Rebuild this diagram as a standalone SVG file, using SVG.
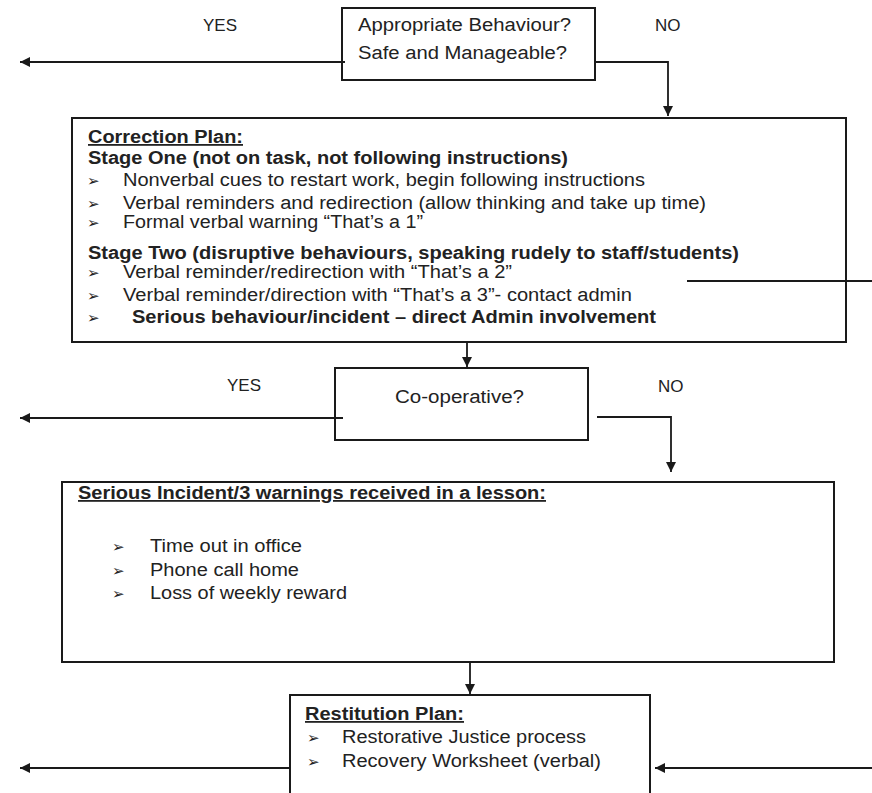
<svg xmlns="http://www.w3.org/2000/svg" width="872" height="793" viewBox="0 0 872 793">
<style>
text{font-family:"Liberation Sans",Arial,sans-serif;fill:#222;font-size:18px}
.b{font-weight:bold}
.u{text-decoration:underline}
.lbl{font-size:17px}
.bul{font-family:"DejaVu Sans",sans-serif;font-size:15px;font-weight:bold}
.box{fill:none;stroke:#1a1a1a;stroke-width:2}
.con{fill:none;stroke:#1a1a1a;stroke-width:1.8}
</style>
<defs>
<marker id="ah" markerUnits="userSpaceOnUse" markerWidth="12" markerHeight="12" refX="10" refY="5" orient="auto">
<path d="M0,0 L10,5 L0,10 Z" fill="#1a1a1a"/>
</marker>
</defs>
<rect width="872" height="793" fill="#fff"/>

<g id="labels">
<text class="lbl" x="203" y="31">YES</text>
<text class="lbl" x="655" y="31">NO</text>
<text class="lbl" x="227" y="391">YES</text>
<text class="lbl" x="658" y="392">NO</text>
</g>

<g id="decision1">
<rect class="box" x="342" y="8" width="253" height="72"/>
<text x="358" y="31" textLength="213" lengthAdjust="spacingAndGlyphs">Appropriate Behaviour?</text>
<text x="358" y="59" textLength="209" lengthAdjust="spacingAndGlyphs">Safe and Manageable?</text>
</g>

<g id="correction-plan">
<rect class="box" x="72" y="118" width="774" height="224"/>
<text class="b u" x="88" y="143" textLength="155" lengthAdjust="spacingAndGlyphs">Correction Plan:</text>
<text class="b" x="88" y="164" textLength="480" lengthAdjust="spacingAndGlyphs">Stage One (not on task, not following instructions)</text>
<text class="bul" x="87" y="186">➢</text>
<text x="123" y="186" textLength="522" lengthAdjust="spacingAndGlyphs">Nonverbal cues to restart work, begin following instructions</text>
<text class="bul" x="87" y="209">➢</text>
<text x="123" y="209" textLength="583" lengthAdjust="spacingAndGlyphs">Verbal reminders and redirection (allow thinking and take up time)</text>
<text class="bul" x="87" y="228">➢</text>
<text x="123" y="228" textLength="300" lengthAdjust="spacingAndGlyphs">Formal verbal warning “That’s a 1”</text>
<text class="b" x="88" y="259" textLength="651" lengthAdjust="spacingAndGlyphs">Stage Two (disruptive behaviours, speaking rudely to staff/students)</text>
<text class="bul" x="87" y="278">➢</text>
<text x="123" y="278" textLength="389" lengthAdjust="spacingAndGlyphs">Verbal reminder/redirection with “That’s a 2”</text>
<text class="bul" x="87" y="301">➢</text>
<text x="123" y="301" textLength="509" lengthAdjust="spacingAndGlyphs">Verbal reminder/direction with “That’s a 3”- contact admin</text>
<text class="bul" x="87" y="323">➢</text>
<text class="b" x="132" y="323" textLength="524" lengthAdjust="spacingAndGlyphs">Serious behaviour/incident – direct Admin involvement</text>
</g>

<g id="decision2">
<rect class="box" x="335" y="368" width="253" height="72"/>
<text x="395" y="403" textLength="129" lengthAdjust="spacingAndGlyphs">Co-operative?</text>
</g>

<g id="serious-incident">
<rect class="box" x="62" y="482" width="772" height="180"/>
<text class="b u" x="78" y="499" textLength="468" lengthAdjust="spacingAndGlyphs">Serious Incident/3 warnings received in a lesson:</text>
<text class="bul" x="112" y="552">➢</text>
<text x="150" y="552" textLength="152" lengthAdjust="spacingAndGlyphs">Time out in office</text>
<text class="bul" x="112" y="576">➢</text>
<text x="150" y="576" textLength="149" lengthAdjust="spacingAndGlyphs">Phone call home</text>
<text class="bul" x="112" y="599">➢</text>
<text x="150" y="599" textLength="197" lengthAdjust="spacingAndGlyphs">Loss of weekly reward</text>
</g>

<g id="restitution-plan">
<rect class="box" x="290" y="695" width="360" height="110"/>
<text class="b u" x="305" y="720" textLength="159" lengthAdjust="spacingAndGlyphs">Restitution Plan:</text>
<text class="bul" x="307" y="743">➢</text>
<text x="342" y="743" textLength="244" lengthAdjust="spacingAndGlyphs">Restorative Justice process</text>
<text class="bul" x="307" y="767">➢</text>
<text x="342" y="767" textLength="259" lengthAdjust="spacingAndGlyphs">Recovery Worksheet (verbal)</text>
</g>

<g id="connectors">
<line class="con" x1="345" y1="62" x2="20" y2="62" marker-end="url(#ah)"/>
<polyline class="con" points="595,62 668,62 668,116" marker-end="url(#ah)"/>
<line class="con" x1="467" y1="342" x2="467" y2="367" marker-end="url(#ah)"/>
<line class="con" x1="343" y1="418" x2="20" y2="418" marker-end="url(#ah)"/>
<polyline class="con" points="597,417 671,417 671,472" marker-end="url(#ah)"/>
<line class="con" x1="687" y1="281" x2="872" y2="281"/>
<line class="con" x1="470" y1="662" x2="470" y2="694" marker-end="url(#ah)"/>
<line class="con" x1="290" y1="768" x2="20" y2="768" marker-end="url(#ah)"/>
<line class="con" x1="872" y1="768" x2="655" y2="768" marker-end="url(#ah)"/>
</g>
</svg>
